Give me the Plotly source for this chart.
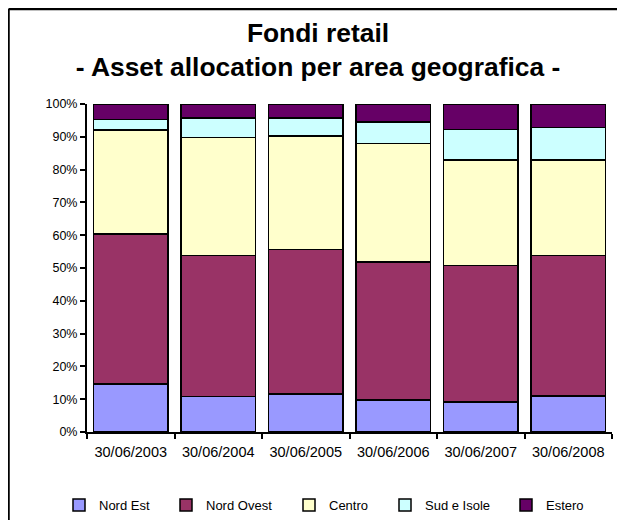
import plotly.graph_objects as go

categories = ["30/06/2003", "30/06/2004", "30/06/2005", "30/06/2006", "30/06/2007", "30/06/2008"]
nord_est = [14.6, 10.9, 11.6, 9.7, 9.2, 11.0]
nord_ovest = [45.7, 42.9, 44.0, 42.2, 41.5, 42.8]
centro = [31.8, 36.0, 34.7, 36.1, 32.2, 29.1]
sud_isole = [3.2, 6.0, 5.5, 6.5, 9.4, 9.9]
estero = [4.7, 4.2, 4.2, 5.5, 7.7, 7.2]

series_names = ["Nord Est", "Nord Ovest", "Centro", "Sud e Isole", "Estero"]
series_values = [nord_est, nord_ovest, centro, sud_isole, estero]
colors = ["#9999FF", "#993366", "#FFFFCC", "#CCFFFF", "#660066"]

# page body has an 8px default margin; figure sized to fit the window
OFF = 8
W, H = 617, 512
L, R, T, B = 79, 13, 96, 88
PW = W - L - R
PH = H - T - B

def px_x(p):
    return (p - L) / PW

def px_y(p):
    return (H - B - p) / PH

legend_centers = [81, 188, 311, 407, 528]
legend_names = ["legend", "legend2", "legend3", "legend4", "legend5"]

fig = go.Figure()
for name, vals, col, lg in zip(series_names, series_values, colors, legend_names):
    fig.add_trace(go.Bar(
        x=categories, y=vals, name=name,
        marker=dict(color=col, line=dict(color="black", width=1.5)),
        legend=lg,
    ))

legend_font = dict(family="Liberation Sans, Arial", size=13, color="black")
layout_legends = {}
for lg, c in zip(legend_names, legend_centers):
    layout_legends[lg] = dict(
        x=px_x(c - 22 - OFF), y=px_y(505 - OFF), xanchor="left", yanchor="middle",
        orientation="h", font=legend_font, bgcolor="rgba(0,0,0,0)",
        borderwidth=0,
    )

fig.update_layout(
    width=W, height=H,
    margin=dict(l=L, r=R, t=T, b=B, pad=0, autoexpand=False),
    paper_bgcolor="white", plot_bgcolor="white",
    barmode="stack", barnorm="percent", bargap=0.154,
    title=dict(
        text="<b>Fondi retail</b><br><b>- Asset allocation per area geografica -</b>",
        x=(318 - OFF) / W, xref="container", xanchor="center",
        y=1 - 34 / H, yref="container", yanchor="top",
        font=dict(family="Liberation Sans, Arial", size=26.4, color="black"),
    ),
    font=dict(family="Liberation Sans, Arial", color="black"),
    showlegend=True,
    **layout_legends,
)

fig.update_xaxes(
    showline=True, linecolor="black", linewidth=2,
    ticks="outside", tickson="boundaries", ticklen=5, tickwidth=1.5, tickcolor="black",
    tickfont=dict(size=14.5, color="black"), showgrid=False,
    ticklabelstandoff=6,
)
fig.update_yaxes(
    range=[0, 100], dtick=10, ticksuffix="%",
    showline=True, linecolor="black", linewidth=2,
    ticks="outside", ticklen=5, tickwidth=1.5, tickcolor="black",
    tickfont=dict(size=12.5, color="black"), showgrid=False, zeroline=False,
)

# chart-area frame (only top and left edges are inside the picture)
border = dict(color="black", width=2.5)
fig.add_shape(type="line", xref="paper", yref="paper",
              x0=px_x(0.5), x1=px_x(W), y0=px_y(9 - OFF), y1=px_y(9 - OFF), line=border)
fig.add_shape(type="line", xref="paper", yref="paper",
              x0=px_x(0.5), x1=px_x(0.5), y0=px_y(9 - OFF), y1=px_y(H), line=border)

fig.write_html("out.html")
